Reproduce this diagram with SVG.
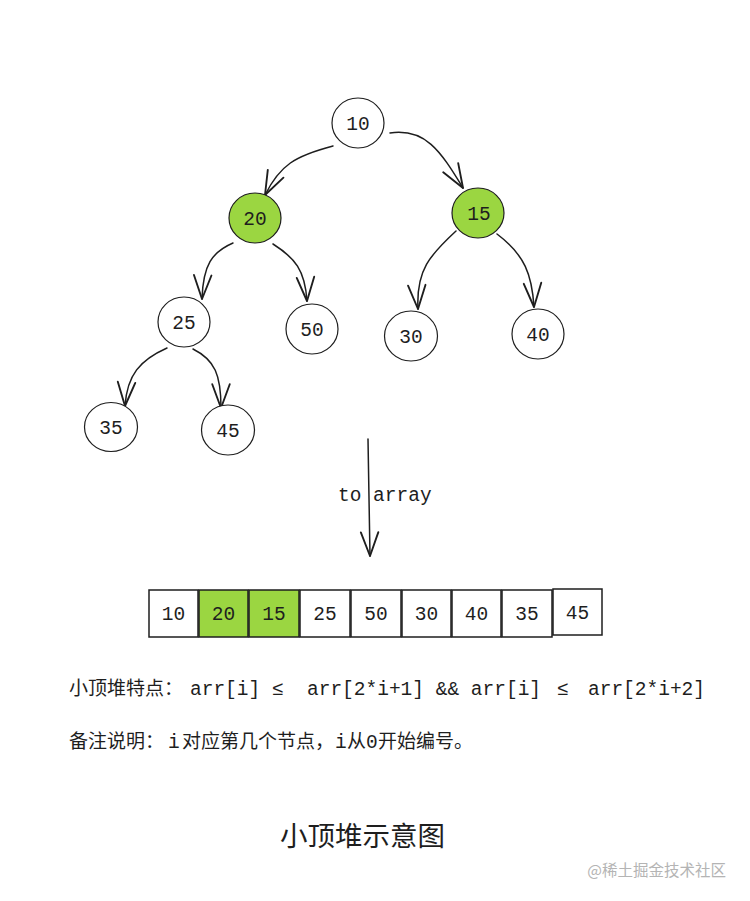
<svg xmlns="http://www.w3.org/2000/svg" width="750" height="901" viewBox="0 0 750 901">
<defs>
<marker id="arr" markerUnits="userSpaceOnUse" markerWidth="30" markerHeight="30" refX="0" refY="0" viewBox="-22 -10 24 20" orient="auto" overflow="visible">
<path d="M -19 -7 L 0 0 L -19 7" fill="none" stroke="#1e1e1e" stroke-width="1.5" stroke-linecap="round" stroke-linejoin="round"/>
</marker>
</defs>
<style>
.n{fill:#ffffff;stroke:#1e1e1e;stroke-width:1.2}
.g{fill:#9bd641;stroke:#1e1e1e;stroke-width:1.2}
.t{font-family:"Liberation Mono","DejaVu Sans Mono",monospace;font-size:19.5px;fill:#1e1e1e;text-anchor:middle}
.e{fill:none;stroke:#1e1e1e;stroke-width:1.5;stroke-linecap:round;marker-end:url(#arr)}
.c{fill:#ffffff;stroke:#1e1e1e;stroke-width:1.5}
.cg{fill:#9bd641;stroke:#1e1e1e;stroke-width:1.5}
.zh{font-family:"Noto Sans CJK SC","Liberation Sans",sans-serif;font-size:19px;fill:#1e1e1e}
.mo{font-family:"Liberation Mono","DejaVu Sans Mono",monospace;font-size:19.5px;fill:#1e1e1e}
</style>
<rect x="0" y="0" width="750" height="901" fill="#ffffff"/>
<g id="connectors">
<path class="e" d="M 333 146 C 295 156, 280 165, 265 195"/>
<path class="e" d="M 390 133 C 425 128, 440 150, 463 188"/>
<path class="e" d="M 233 243 C 212 252, 203 265, 202 299"/>
<path class="e" d="M 273 244 C 295 258, 305 270, 307 301"/>
<path class="e" d="M 456 231 C 430 255, 416 270, 418 309"/>
<path class="e" d="M 497 234 C 525 255, 532 275, 534 307"/>
<path class="e" d="M 167 348 C 140 360, 127 375, 125 406"/>
<path class="e" d="M 193 349 C 215 360, 221 375, 221 408"/>
<path class="e" d="M 368 439 L 370 556"/>
</g>
<g id="node-10"><ellipse class="n" cx="358" cy="123" rx="26" ry="25"/><text class="t" x="358" y="130">10</text></g>
<g id="node-20"><ellipse class="g" cx="255" cy="218" rx="26" ry="25"/><text class="t" x="255" y="225">20</text></g>
<g id="node-15"><ellipse class="g" cx="478" cy="213" rx="26" ry="25"/><text class="t" x="479" y="220">15</text></g>
<g id="node-25"><ellipse class="n" cx="184" cy="322" rx="26" ry="25"/><text class="t" x="184" y="329">25</text></g>
<g id="node-50"><ellipse class="n" cx="312" cy="329" rx="26" ry="25"/><text class="t" x="312" y="336">50</text></g>
<g id="node-30"><ellipse class="n" cx="411" cy="336" rx="26.5" ry="25"/><text class="t" x="411" y="343">30</text></g>
<g id="node-40"><ellipse class="n" cx="538" cy="334" rx="26" ry="25"/><text class="t" x="538" y="341">40</text></g>
<g id="node-35"><ellipse class="n" cx="111" cy="427" rx="26.5" ry="24.5"/><text class="t" x="111" y="434">35</text></g>
<g id="node-45"><ellipse class="n" cx="228" cy="430" rx="26.5" ry="25"/><text class="t" x="228" y="437">45</text></g>
<g id="label-to-array"><text class="mo" x="338" y="501">to array</text></g>
<g id="array">
<rect class="c" x="149" y="590" width="49" height="47"/><text class="t" x="173.5" y="620">10</text>
<rect class="cg" x="199" y="590" width="49" height="47"/><text class="t" x="223.5" y="620">20</text>
<rect class="cg" x="249" y="590" width="50" height="47"/><text class="t" x="274" y="620">15</text>
<rect class="c" x="300" y="590" width="50" height="47"/><text class="t" x="325" y="620">25</text>
<rect class="c" x="351" y="590" width="50" height="47"/><text class="t" x="376" y="620">50</text>
<rect class="c" x="402" y="590" width="49" height="47"/><text class="t" x="426.5" y="620">30</text>
<rect class="c" x="452" y="590" width="49" height="47"/><text class="t" x="476.5" y="620">40</text>
<rect class="c" x="502" y="590" width="50" height="47"/><text class="t" x="527" y="620">35</text>
<rect class="c" x="553" y="589" width="49" height="46"/><text class="t" x="577.5" y="619">45</text>
</g>
<g id="note-1">
<text y="695"><tspan class="zh" x="69">小顶堆特点：</tspan><tspan class="mo" x="190">arr[i] </tspan><tspan class="mo" x="272">≤ </tspan><tspan class="mo" x="307">arr[2*i+1] &amp;&amp; arr[i] </tspan><tspan class="mo" x="557">≤ </tspan><tspan class="mo" x="588">arr[2*i+2]</tspan></text>
</g>
<g id="note-2">
<text y="748"><tspan class="zh" x="69">备注说明：</tspan><tspan class="mo" x="168">i</tspan><tspan class="zh" x="182">对应第几个节点，</tspan><tspan class="mo" x="335">i</tspan><tspan class="zh" x="347">从</tspan><tspan class="mo" x="366">0</tspan><tspan class="zh" x="378">开始编号。</tspan></text>
</g>
<g id="title"><text x="280" y="846" font-family="Noto Sans CJK SC, Liberation Sans, sans-serif" font-size="27.5" fill="#1e1e1e">小顶堆示意图</text></g>
<g id="watermark"><text x="726" y="876" text-anchor="end" font-family="Noto Sans CJK SC, Liberation Sans, sans-serif" font-size="15.5" fill="#b4b4b4">@稀土掘金技术社区</text></g>
</svg>
